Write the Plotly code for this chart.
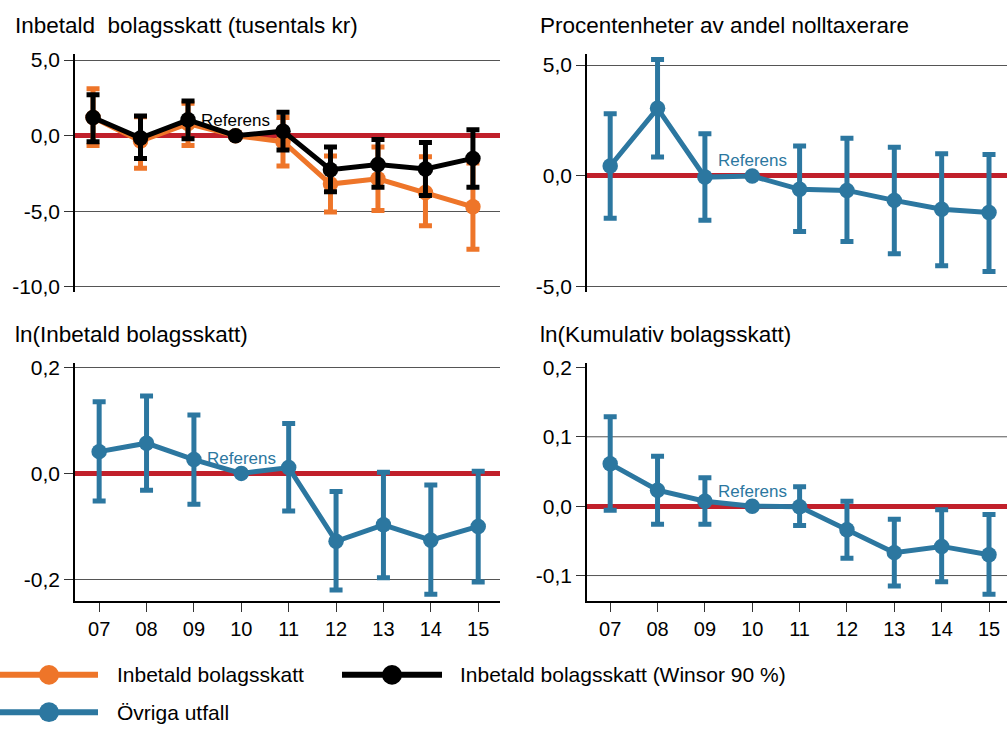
import plotly.graph_objects as go

W, H = 1007, 729

years = ["07", "08", "09", "10", "11", "12", "13", "14", "15"]
ref_year = "10"

# Panel 1: Inbetald bolagsskatt (tusentals kr)
p1_orange_est = [1.2, -0.35, 0.8, 0.0, -0.4, -3.2, -2.85, -3.75, -4.7]
p1_orange_hi = [3.1, 1.25, 2.15, 0.0, 1.2, -1.35, -0.75, -1.4, -1.8]
p1_orange_lo = [-0.65, -2.15, -0.65, 0.0, -2.0, -5.05, -4.95, -5.95, -7.5]
p1_black_est = [1.2, -0.15, 1.05, 0.0, 0.3, -2.25, -1.9, -2.2, -1.5]
p1_black_hi = [2.7, 1.3, 2.3, 0.0, 1.55, -0.75, -0.25, -0.45, 0.4]
p1_black_lo = [-0.4, -1.5, -0.2, 0.0, -0.95, -3.7, -3.4, -3.95, -3.4]

# Panel 2: Procentenheter av andel nolltaxerare
p2_est = [0.45, 3.05, -0.05, 0.0, -0.6, -0.65, -1.1, -1.5, -1.65]
p2_hi = [2.8, 5.25, 1.9, 0.0, 1.35, 1.7, 1.3, 1.0, 0.97]
p2_lo = [-1.9, 0.85, -2.0, 0.0, -2.5, -2.95, -3.5, -4.05, -4.3]

# Panel 3: ln(Inbetald bolagsskatt)
p3_est = [0.041, 0.057, 0.026, 0.0, 0.011, -0.128, -0.097, -0.126, -0.100]
p3_hi = [0.135, 0.146, 0.110, 0.0, 0.094, -0.034, 0.002, -0.022, 0.004]
p3_lo = [-0.052, -0.032, -0.058, 0.0, -0.071, -0.220, -0.197, -0.228, -0.205]

# Panel 4: ln(Kumulativ bolagsskatt)
p4_est = [0.061, 0.023, 0.007, 0.0, -0.001, -0.034, -0.067, -0.058, -0.070]
p4_hi = [0.129, 0.072, 0.041, 0.0, 0.028, 0.007, -0.019, -0.005, -0.012]
p4_lo = [-0.006, -0.026, -0.026, 0.0, -0.028, -0.075, -0.115, -0.109, -0.127]

titles = ["Inbetald  bolagsskatt (tusentals kr)",
          "Procentenheter av andel nolltaxerare",
          "ln(Inbetald bolagsskatt)",
          "ln(Kumulativ bolagsskatt)"]

p1_ticks = [5, 0, -5, -10]
p1_ticktext = ["5,0", "0,0", "-5,0", "-10,0"]
p2_ticks = [5, 0, -5]
p2_ticktext = ["5,0", "0,0", "-5,0"]
p3_ticks = [0.2, 0, -0.2]
p3_ticktext = ["0,2", "0,0", "-0,2"]
p4_ticks = [0.2, 0.1, 0, -0.1]
p4_ticktext = ["0,2", "0,1", "0,0", "-0,1"]
p4_grid = [0.1, -0.1]

legend_labels = ["Inbetald bolagsskatt", "Inbetald bolagsskatt (Winsor 90 %)", "Övriga utfall"]
ref_label = "Referens"

ORANGE = "#EE7529"
BLACK = "#000000"
BLUE = "#2C77A0"
RED = "#C1202B"
GRID = "#555555"
FONT = "Arial, Liberation Sans, sans-serif"


def px(x):
    return x / W


def py(y):
    return 1 - y / H


def err(est, hi, lo):
    return dict(type="data", symmetric=False,
                array=[h - e for h, e in zip(hi, est)],
                arrayminus=[e - l for e, l in zip(est, lo)])


def series(est, hi, lo, color, xa, ya):
    e = err(est, hi, lo)
    e.update(color=color, thickness=5, width=6.5)
    return go.Scatter(x=years, y=est, mode="lines+markers", xaxis=xa, yaxis=ya,
                      line=dict(color=color, width=5),
                      marker=dict(color=color, size=15.5),
                      error_y=e, showlegend=False, hoverinfo="skip")


fig = go.Figure()
fig.add_trace(series(p1_orange_est, p1_orange_hi, p1_orange_lo, ORANGE, "x", "y"))
fig.add_trace(series(p1_black_est, p1_black_hi, p1_black_lo, BLACK, "x", "y"))
fig.add_trace(series(p2_est, p2_hi, p2_lo, BLUE, "x2", "y2"))
fig.add_trace(series(p3_est, p3_hi, p3_lo, BLUE, "x3", "y3"))
fig.add_trace(series(p4_est, p4_hi, p4_lo, BLUE, "x4", "y4"))

top_dom = [py(290), py(48)]
bot_dom = [py(605), py(362)]
left_dom = [px(75), px(500)]
right_dom = [px(587), 1.0]

tickfont = dict(family=FONT, size=21, color="black")


def xaxis(dom, anchor, rng, bottom):
    d = dict(domain=dom, anchor=anchor, type="category", range=rng,
             showgrid=False, zeroline=False, fixedrange=True)
    if bottom:
        d.update(showline=True, linecolor="black", linewidth=1.5,
                 ticks="outside", ticklen=9, tickwidth=1.2, tickcolor="#333",
                 tickfont=dict(family=FONT, size=20, color="black"),
                 showticklabels=True)
    else:
        d.update(showline=False, ticks="", showticklabels=False)
    return d


def yaxis(dom, anchor, rng, tv, tt, grid=True):
    return dict(domain=dom, anchor=anchor, range=rng, tickvals=tv, ticktext=tt,
                showline=True, linecolor="black", linewidth=1.5,
                ticks="outside", ticklen=9, tickwidth=1.2, tickcolor="#333",
                tickfont=tickfont, showgrid=grid, gridcolor=GRID, gridwidth=1,
                zeroline=True, zerolinecolor=RED, zerolinewidth=5,
                fixedrange=True)


fig.update_layout(
    width=W, height=H, margin=dict(l=0, r=0, t=0, b=0),
    paper_bgcolor="white", plot_bgcolor="white",
    font=dict(family=FONT, color="black"),
    showlegend=False,
    xaxis=xaxis(left_dom, "y", [-0.38, 8.57], False),
    yaxis=yaxis(top_dom, "x", [-10.32, 5.39], p1_ticks, p1_ticktext),
    xaxis2=xaxis(right_dom, "y2", [-0.49, 8.38], False),
    yaxis2=yaxis(top_dom, "x2", [-5.22, 5.49], p2_ticks, p2_ticktext),
    xaxis3=xaxis(left_dom, "y3", [-0.51, 8.46], True),
    yaxis3=yaxis(bot_dom, "x3", [-0.241, 0.209], p3_ticks, p3_ticktext),
    xaxis4=xaxis(right_dom, "y4", [-0.49, 8.38], True),
    yaxis4=yaxis(bot_dom, "x4", [-0.137, 0.207], p4_ticks, p4_ticktext, grid=False),
)

# gridlines for bottom-right panel (no line at 0,2)
for g in p4_grid:
    fig.add_shape(type="line", xref="x4 domain", yref="y4", x0=0, x1=1, y0=g, y1=g,
                  line=dict(color=GRID, width=1), layer="below")

# panel titles
title_pos = [(13, 19), (538, 19), (13, 333), (538, 333)]
for t, (tx, ty) in zip(titles, title_pos):
    fig.add_annotation(text=t, xref="paper", yref="paper", x=px(tx), y=py(ty),
                       xanchor="left", yanchor="middle", showarrow=False,
                       font=dict(family=FONT, size=22.5, color="black"))

# "Referens" labels at the reference year (category index)
ref_idx = years.index(ref_year)
ref_axes = [("x", "y", "black"), ("x2", "y2", BLUE), ("x3", "y3", BLUE), ("x4", "y4", BLUE)]
for xa, ya, col in ref_axes:
    fig.add_annotation(text=ref_label, xref=xa, yref=ya, x=ref_idx, y=0, yshift=15,
                       xanchor="center", yanchor="middle", showarrow=False,
                       font=dict(family=FONT, size=17, color=col))

# custom legend
legend_items = [
    (legend_labels[0], ORANGE, 0, 98, 680, 115),
    (legend_labels[1], BLACK, 342, 442, 680, 458),
    (legend_labels[2], BLUE, 0, 98, 718, 115),
]
for lab, col, lx0, lx1, ly, tx in legend_items:
    fig.add_shape(type="line", xref="paper", yref="paper",
                  x0=px(lx0), x1=px(lx1), y0=py(ly), y1=py(ly),
                  line=dict(color=col, width=6))
    cx = (lx0 + lx1) / 2
    r = 10
    fig.add_shape(type="circle", xref="paper", yref="paper",
                  x0=px(cx - r), x1=px(cx + r), y0=py(ly + r), y1=py(ly - r),
                  fillcolor=col, line=dict(color=col, width=0))
    fig.add_annotation(text=lab, xref="paper", yref="paper", x=px(tx), y=py(ly),
                       xanchor="left", yanchor="middle", showarrow=False,
                       font=dict(family=FONT, size=21, color="black"))

fig.write_html("out.html", config={"displayModeBar": False},
               post_script="document.body.style.margin='0';")
